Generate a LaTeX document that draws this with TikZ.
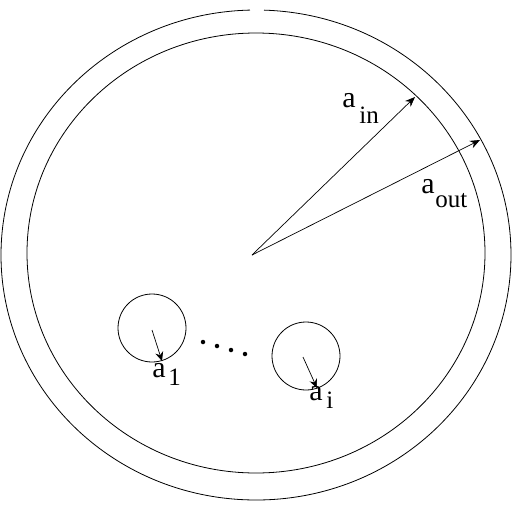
\documentclass[tikz,border=0pt]{standalone}
\usepackage{fontspec}
\setmainfont{Liberation Serif}
\usetikzlibrary{arrows.meta}
\begin{document}
\begin{tikzpicture}[x=1pt,y=-1pt, line width=0.8pt,
  vec/.style={-{Stealth[length=10pt,width=8pt]}, line width=0.7pt},
  svec/.style={-{Stealth[length=9pt,width=8pt]}, line width=0.7pt},
  lbl/.style={inner sep=0pt, anchor=base west, font=\fontsize{30}{32}\selectfont},
  sublbl/.style={inner sep=0pt, anchor=base west, font=\fontsize{25}{27}\selectfont},
  ball/.style={draw, circle, minimum size=68pt, inner sep=0pt, line width=0.8pt},
  dotmark/.style={fill, circle, inner sep=0pt, minimum size=4.5pt}]
\useasboundingbox (0,0) rectangle (512,512);
% outer ring (small gap at top)
\draw (256,255) ++(271.8:255 and 245) arc[start angle=271.8, end angle=628.65, x radius=255, y radius=245];
% inner ring
\draw (256,253) ellipse[x radius=229, y radius=220];
% radii
\coordinate (O) at (252,255);
\coordinate (tin) at (415,97);
\coordinate (tout) at (480,140);
\draw[vec] (O) -- (tin);
\draw[vec] (O) -- (tout);
\node[lbl] (ain) at (342,107) {a};
\node[sublbl] (ainsub) at (359,123) {in};
\node[lbl] (aout) at (421,193) {a};
\node[sublbl] (aoutsub) at (435,207) {out};
% small spheres
\node[ball] (c1) at (152,328) {};
\node[ball] (c2) at (306,356) {};
\coordinate (s1) at (152,330);
\coordinate (e1) at (162,361);
\coordinate (s2) at (303,357);
\coordinate (e2) at (317,388);
\draw[svec] (s1) -- (e1);
\draw[svec] (s2) -- (e2);
\node[lbl] (a1) at (152,377) {a};
\node[sublbl] (a1sub) at (168,385) {1};
\node[lbl] (ai) at (309,400) {a};
\node[sublbl] (aisub) at (326,408) {i};
% dots
\node[dotmark] (d1) at (203,342) {};
\node[dotmark] (d2) at (217,346) {};
\node[dotmark] (d3) at (231,350) {};
\node[dotmark] (d4) at (245,354) {};
\end{tikzpicture}
\end{document}
